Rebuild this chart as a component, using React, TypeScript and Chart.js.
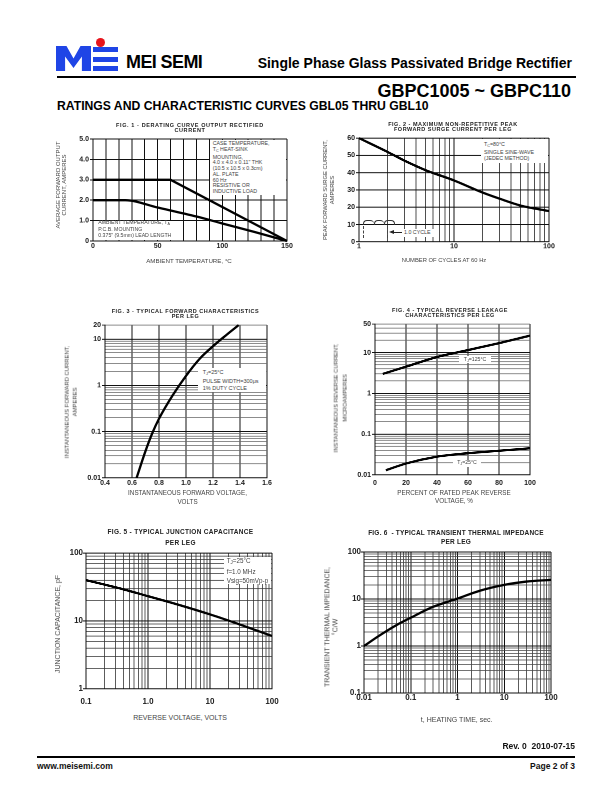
import React, { useEffect, useRef } from "react";
import { Chart, registerables } from "chart.js";
Chart.register(...registerables);

const FONT = '"Liberation Sans", Arial, Helvetica, sans-serif';

// ---------- Fig. 1 : derating curve ----------
const fig1CaseTemp = [0, 60, 150];
const fig1CaseCurrent = [3.0, 3.0, 0];
const fig1AmbTemp = [0, 25, 50, 80, 100, 125, 150];
const fig1AmbCurrent = [2.0, 2.0, 1.64, 1.2, 0.86, 0.44, 0];
const fig1XLabels = [0, 50, 100, 150];
const fig1YLabels = [0, 1, 2, 3, 4, 5];

// ---------- Fig. 2 : surge current ----------
const fig2Cycles = [1, 2, 3, 5, 10, 20, 30, 50, 100];
const fig2Surge = [60, 52, 47, 41.5, 35.5, 28.5, 25, 21, 17.8];
const fig2XLabels = [1, 10, 100];
const fig2YLabels = [0, 10, 20, 30, 40, 50, 60];

// ---------- Fig. 3 : forward characteristics ----------
const fig3Volts = [0.634, 0.7, 0.75, 0.8, 0.9, 1.0, 1.1, 1.2, 1.3, 1.39];
const fig3Amps = [0.01, 0.038, 0.092, 0.19, 0.6, 1.6, 3.7, 7.0, 12.3, 20];
const fig3XLabels = [0.4, 0.6, 0.8, 1.0, 1.2, 1.4, 1.6];
const fig3YLabels = [0.01, 0.1, 1, 10, 20];

// ---------- Fig. 4 : reverse leakage ----------
const fig4Percent125 = [5, 20, 40, 60, 80, 100];
const fig4Leak125 = [3, 4.5, 7.8, 11.5, 17, 26];
const fig4Percent25 = [7, 20, 40, 60, 80, 100];
const fig4Leak25 = [0.013, 0.019, 0.028, 0.034, 0.039, 0.045];
const fig4XLabels = [0, 20, 40, 60, 80, 100];
const fig4YLabels = [0.01, 0.1, 1, 10, 50];

// ---------- Fig. 5 : junction capacitance ----------
const fig5Volts = [0.1, 0.3, 1, 3, 10, 30, 100];
const fig5Cap = [40, 31.3, 23.2, 17.5, 12.5, 8.9, 6];
const fig5XLabels = [0.1, 1, 10, 100];
const fig5YLabels = [1, 10, 100];

// ---------- Fig. 6 : transient thermal impedance ----------
const fig6Time = [0.01, 0.02, 0.05, 0.1, 0.3, 1, 3, 10, 30, 100];
const fig6Zth = [1, 1.6, 2.8, 4, 6.8, 10.2, 15, 20, 23.5, 25.5];
const fig6XLabels = [0.01, 0.1, 1, 10, 100];
const fig6YLabels = [0.1, 1, 10, 100];

// grid helpers (grid lines only, not data)
function linGrid(min: number, max: number, step: number) {
  const out: number[] = [];
  for (let v = min; v <= max + 1e-9; v += step) out.push(+v.toFixed(6));
  return out;
}
function logGrid(min: number, max: number) {
  const out: number[] = [];
  let d = Math.pow(10, Math.floor(Math.log10(min) + 1e-9));
  while (d <= max * 1.0001) {
    for (let m = 1; m < 10; m++) {
      const v = +(m * d).toPrecision(6);
      if (v >= min * 0.9999 && v <= max * 1.0001) out.push(v);
    }
    d *= 10;
  }
  return out;
}

type Axis = {
  type: "linear" | "logarithmic";
  min: number;
  max: number;
  grid: number[];
  labels: number[];
  fmt: (v: number) => string;
  pad: number;
  size: number;
  minor?: string;
};
type Series = { xs: number[]; ys: number[]; smooth: boolean };
type Plot = { left: number; top: number; width: number; height: number };

const M = { l: 36, r: 16, t: 10, b: 24 };

const near = (arr: number[], v: number) =>
  arr.some((a) => Math.abs(a - v) <= Math.abs(v) * 1e-6 + 1e-12);

function PlotChart({ plot, x, y, series }: { plot: Plot; x: Axis; y: Axis; series: Series[] }) {
  const ref = useRef<HTMLCanvasElement>(null);
  const W = plot.width + M.l + M.r;
  const H = plot.height + M.t + M.b;
  useEffect(() => {
    const cv = ref.current;
    if (!cv) return;
    const isMajor = (ax: Axis, v: number) =>
      ax.type === "logarithmic"
        ? Math.abs(Math.log10(v) - Math.round(Math.log10(v))) < 1e-6
        : true;
    const mkScale = (ax: Axis, horiz: boolean): any => ({
      type: ax.type,
      min: ax.min,
      max: ax.max,
      position: horiz ? "bottom" : "left",
      afterBuildTicks: (s: any) => {
        s.ticks = ax.grid.map((v) => ({ value: v }));
      },
      afterFit: (s: any) => {
        if (horiz) s.height = M.b;
        else s.width = M.l;
        s.paddingLeft = 0;
        s.paddingRight = 0;
        s.paddingTop = 0;
        s.paddingBottom = 0;
      },
      ticks: {
        autoSkip: false,
        maxRotation: 0,
        minRotation: 0,
        padding: ax.pad,
        color: "#222",
        font: { family: FONT, size: ax.size, weight: "bold" },
        callback: (v: any) => (near(ax.labels, Number(v)) ? ax.fmt(Number(v)) : ""),
      },
      grid: {
        color: (c: any) =>
          c.tick && isMajor(ax, c.tick.value) ? "#111" : ax.minor || "#555",
        lineWidth: (c: any) => (c.tick && isMajor(ax, c.tick.value) ? 1 : 0.8),
        drawTicks: !horiz,
        tickLength: horiz ? 0 : 3,
        tickColor: (c: any) =>
          c.tick && near(ax.labels, c.tick.value) ? "#111" : "rgba(0,0,0,0)",
      },
      border: { display: true, color: "#111", width: 1 },
    });
    const chart = new Chart(cv, {
      type: "line",
      data: {
        datasets: series.map((s) => ({
          data: s.xs.map((xv, i) => ({ x: xv, y: s.ys[i] })),
          borderColor: "#000",
          borderWidth: 2.3,
          pointRadius: 0,
          fill: false,
          clip: false as any,
          tension: s.smooth ? 0.4 : 0,
          cubicInterpolationMode: s.smooth ? "monotone" : "default",
        })),
      },
      options: {
        responsive: false,
        animation: false,
        devicePixelRatio: 2,
        events: [],
        layout: { padding: { top: M.t, right: M.r, left: 0, bottom: 0 } },
        plugins: { legend: { display: false }, tooltip: { enabled: false }, title: { display: false } },
        scales: { x: mkScale(x, true), y: mkScale(y, false) },
      } as any,
    });
    return () => chart.destroy();
  }, []);
  return (
    <canvas
      ref={ref}
      width={W}
      height={H}
      style={{ position: "absolute", left: plot.left - M.l, top: plot.top - M.t, width: W, height: H }}
    />
  );
}

function Txt({
  x, y, lines, size = 6, bold = false, align = "center", color = "#333", lh, ls = 0,
}: {
  x: number; y: number; lines: React.ReactNode[]; size?: number; bold?: boolean;
  align?: "left" | "right" | "center"; color?: string; lh?: number; ls?: number;
}) {
  const style: React.CSSProperties = {
    position: "absolute",
    top: y,
    fontFamily: FONT,
    fontSize: size,
    fontWeight: bold ? 700 : 400,
    color,
    whiteSpace: "pre",
    lineHeight: `${lh ?? size}px`,
    textAlign: align,
    letterSpacing: ls,
  };
  if (align === "left") style.left = x;
  else if (align === "right") style.right = 612 - x;
  else {
    style.left = x;
    style.transform = "translateX(-50%)";
  }
  return (
    <div style={style}>
      {lines.map((l, i) => (
        <div key={i}>{l}</div>
      ))}
    </div>
  );
}

function VTxt({ cx, cy, lines, size, lh, color = "#444" }: { cx: number; cy: number; lines: string[]; size: number; lh: number; color?: string }) {
  return (
    <div
      style={{
        position: "absolute",
        left: cx,
        top: cy,
        transform: "translate(-50%,-50%) rotate(-90deg)",
        fontFamily: FONT,
        fontSize: size,
        lineHeight: `${lh}px`,
        whiteSpace: "pre",
        textAlign: "center",
        color,
      }}
    >
      {lines.map((l, i) => (
        <div key={i}>{l}</div>
      ))}
    </div>
  );
}

function WBox({ l, t, w, h }: { l: number; t: number; w: number; h: number }) {
  return <div style={{ position: "absolute", left: l, top: t, width: w, height: h, background: "#fff" }} />;
}

const Sub = ({ c }: { c: string }) => <span style={{ fontSize: "70%", verticalAlign: "-0.25em" }}>{c}</span>;

const fmtStr = (v: number) => String(v);

export default function App() {
  return (
    <div style={{ position: "absolute", left: 0, top: 0, width: 612, height: 792, background: "#fff", overflow: "hidden" }}>
      {/* ---------- header ---------- */}
      <div
        style={{
          position: "absolute", left: 56, top: 46, width: 35, height: 25, background: "#1f45e6",
          clipPath: "polygon(0 0, 30% 0, 50% 50%, 70% 0, 100% 0, 100% 100%, 74% 100%, 74% 42%, 50% 88%, 26% 42%, 26% 100%, 0 100%)",
        }}
      />
      <div style={{ position: "absolute", left: 93, top: 47, width: 25, height: 5, background: "#1f45e6" }} />
      <div style={{ position: "absolute", left: 93, top: 56.5, width: 25, height: 5, background: "#1f45e6" }} />
      <div style={{ position: "absolute", left: 93, top: 66, width: 25, height: 5, background: "#1f45e6" }} />
      <div style={{ position: "absolute", left: 95.5, top: 37.5, width: 9, height: 9, borderRadius: "50%", background: "#e8141c" }} />
      <Txt x={126} y={53} lines={["MEI SEMI"]} size={18} bold align="left" color="#000" ls={-0.6} />
      <Txt x={572} y={55.5} lines={["Single Phase Glass Passivated Bridge Rectifier"]} size={14} bold align="right" color="#000" />
      <div style={{ position: "absolute", left: 57, top: 76, width: 519, height: 2, background: "#000" }} />
      <Txt x={571} y={82} lines={["GBPC1005 ~ GBPC110"]} size={18} bold align="right" color="#000" />
      <Txt x={57} y={100} lines={["RATINGS AND CHARACTERISTIC CURVES GBL05 THRU GBL10"]} size={12.2} bold align="left" color="#000" />

      {/* ---------- Fig 1 ---------- */}
      <PlotChart
        plot={{ left: 93, top: 139, width: 194, height: 102 }}
        x={{ type: "linear", min: 0, max: 150, grid: linGrid(0, 150, 10), labels: fig1XLabels, fmt: fmtStr, pad: 1, size: 7 }}
        y={{ type: "linear", min: 0, max: 5, grid: linGrid(0, 5, 1), labels: fig1YLabels, fmt: (v) => (v === 0 ? "0" : v.toFixed(1)), pad: 1, size: 7 }}
        series={[
          { xs: fig1CaseTemp, ys: fig1CaseCurrent, smooth: false },
          { xs: fig1AmbTemp, ys: fig1AmbCurrent, smooth: true },
        ]}
      />
      <WBox l={210} t={140} w={76} h={55} />
      <Txt x={212.7} y={141.2} lh={5.75} size={5.3} align="left" color="#444"
        lines={["CASE TEMPERATURE,", <>T<Sub c="C" /> HEAT-SINK</>, "MOUNTING,", '4.0 x 4.0 x 0.11" THK', "(10.5 x 10.5 x 0.3cm)", "AL. PLATE", "60 Hz", "RESISTIVE OR", "INDUCTIVE LOAD"]} />
      <WBox l={94} t={221.2} w={88} h={19} />
      <Txt x={98.3} y={219.5} lh={5.7} size={5.2} align="left" color="#444"
        lines={[<>AMBIENT TEMPERATURE, T<Sub c="A" /></>, "P.C.B. MOUNTING", '0.375" (9.5mm) LEAD LENGTH']} />
      <Txt x={190} y={123.2} lh={4.8} size={5.5} bold ls={0.6} color="#222"
        lines={["FIG. 1 - DERATING CURVE OUTPUT RECTIFIED", "CURRENT"]} />
      <VTxt cx={60.5} cy={185} size={6} lh={6} lines={["AVERAGE FORWARD OUTPUT", "CURRENT, AMPERES"]} />
      <Txt x={189} y={257.5} size={6.2} color="#444" lines={["AMBIENT TEMPERATURE, °C"]} />

      {/* ---------- Fig 2 ---------- */}
      <PlotChart
        plot={{ left: 359, top: 138, width: 190, height: 103.5 }}
        x={{ type: "logarithmic", min: 1, max: 100, grid: logGrid(1, 100), labels: fig2XLabels, fmt: fmtStr, pad: 0.5, size: 7, minor: "#222" }}
        y={{ type: "linear", min: 0, max: 60, grid: linGrid(0, 60, 10), labels: fig2YLabels, fmt: fmtStr, pad: 1, size: 7 }}
        series={[{ xs: fig2Cycles, ys: fig2Surge, smooth: true }]}
      />
      <WBox l={481} t={139} w={67} h={24} />
      <Txt x={484} y={142.2} lh={5.7} size={5.3} align="left" color="#444"
        lines={[<>T<Sub c="C" />=80°C</>, "SINGLE SINE-WAVE", "(JEDEC METHOD)"]} />
      {[0, 1, 2].map((i) => (
        <div key={i} style={{ position: "absolute", left: 363 + i * 10.5, top: 220, width: 10.5, height: 5, boxSizing: "border-box", borderTop: "0.9px solid #333", borderLeft: "0.9px solid #333", borderRight: i === 2 ? "0.9px solid #333" : "none", borderRadius: "4px 4px 0 0" }} />
      ))}
      <div style={{ position: "absolute", left: 363, top: 226, height: 12, borderLeft: "0.9px dashed #444" }} />
      <div style={{ position: "absolute", left: 386.5, top: 226, height: 12, borderLeft: "0.9px dashed #444" }} />
      <WBox l={389} t={228.5} w={46} h={8} />
      <div style={{ position: "absolute", left: 389, top: 230, width: 0, height: 0, borderRight: "5px solid #222", borderTop: "2.5px solid transparent", borderBottom: "2.5px solid transparent" }} />
      <div style={{ position: "absolute", left: 393, top: 232, width: 9, height: 1, background: "#222" }} />
      <Txt x={404} y={229.7} size={5.3} align="left" color="#444" lines={["1.0 CYCLE"]} />
      <Txt x={453} y={121.6} lh={5} size={5.5} bold ls={0.5} color="#222"
        lines={["FIG. 2 - MAXIMUM NON-REPETITIVE PEAK", "FORWARD SURGE CURRENT PER LEG"]} />
      <VTxt cx={328.5} cy={190} size={5.8} lh={7} lines={["PEAK FORWARD SURGE CURRENT,", "AMPERES"]} />
      <Txt x={444} y={257.5} size={5.8} color="#444" lines={["NUMBER OF CYCLES AT 60 Hz"]} />

      {/* ---------- Fig 3 ---------- */}
      <PlotChart
        plot={{ left: 105, top: 325, width: 162, height: 152.5 }}
        x={{ type: "linear", min: 0.4, max: 1.6, grid: linGrid(0.4, 1.6, 0.2), labels: fig3XLabels, fmt: (v) => v.toFixed(1), pad: 1, size: 7 }}
        y={{ type: "logarithmic", min: 0.01, max: 20, grid: logGrid(0.01, 20), labels: fig3YLabels, fmt: fmtStr, pad: 1, size: 7, minor: "#666" }}
        series={[{ xs: fig3Volts, ys: fig3Amps, smooth: true }]}
      />
      <WBox l={198} t={368} w={68} h={24} />
      <Txt x={202.7} y={369.4} lh={6.7} size={5.5} align="left" color="#444"
        lines={[<>T<Sub c="J" />=25°C</>, "PULSE WIDTH=300μs", "1% DUTY CYCLE"]} />
      <Txt x={185.5} y={308.5} lh={5.5} size={5.5} bold ls={0.5} color="#222"
        lines={["FIG. 3 - TYPICAL FORWARD CHARACTERISTICS", "PER LEG"]} />
      <VTxt cx={71} cy={402} size={5.9} lh={8.3} lines={["INSTANTANEOUS FORWARD CURRENT,", "AMPERES"]} />
      <Txt x={187.5} y={489} lh={8.6} size={6.3} color="#444" lines={["INSTANTANEOUS FORWARD VOLTAGE,", "VOLTS"]} />

      {/* ---------- Fig 4 ---------- */}
      <PlotChart
        plot={{ left: 375, top: 324, width: 155, height: 150.5 }}
        x={{ type: "linear", min: 0, max: 100, grid: linGrid(0, 100, 20), labels: fig4XLabels, fmt: fmtStr, pad: 4, size: 7 }}
        y={{ type: "logarithmic", min: 0.01, max: 50, grid: logGrid(0.01, 50), labels: fig4YLabels, fmt: fmtStr, pad: 1, size: 7, minor: "#666" }}
        series={[
          { xs: fig4Percent125, ys: fig4Leak125, smooth: true },
          { xs: fig4Percent25, ys: fig4Leak25, smooth: true },
        ]}
      />
      <WBox l={459} t={356} w={32} h={7} />
      <Txt x={475} y={356.8} size={5.2} color="#444" lines={[<>T<Sub c="J" />=125°C</>]} />
      <WBox l={453} t={459.5} w={28} h={7} />
      <Txt x={467} y={460.3} size={5.2} color="#444" lines={[<>T<Sub c="J" />=25°C</>]} />
      <Txt x={450} y={307.5} lh={5.5} size={5.5} bold ls={0.5} color="#222"
        lines={["FIG. 4 - TYPICAL REVERSE LEAKAGE", "CHARACTERISTICS PER LEG"]} />
      <VTxt cx={341.3} cy={398} size={5.8} lh={9.3} lines={["INSTANTANEOUS REVERSE CURRENT,", "MICROAMPERES"]} />
      <Txt x={454} y={489} lh={7.5} size={6.3} color="#444" lines={["PERCENT OF RATED PEAK REVERSE", "VOLTAGE, %"]} />

      {/* ---------- Fig 5 ---------- */}
      <PlotChart
        plot={{ left: 86, top: 553, width: 186, height: 135.5 }}
        x={{ type: "logarithmic", min: 0.1, max: 100, grid: logGrid(0.1, 100), labels: fig5XLabels, fmt: (v) => (v === 1 ? "1.0" : String(v)), pad: 8, size: 8, minor: "#333" }}
        y={{ type: "logarithmic", min: 1, max: 100, grid: logGrid(1, 100), labels: fig5YLabels, fmt: fmtStr, pad: 0, size: 8, minor: "#333" }}
        series={[{ xs: fig5Volts, ys: fig5Cap, smooth: true }]}
      />
      <WBox l={224} t={557} w={47} h={27} />
      <Txt x={226.7} y={557.4} lh={8.6} size={6.3} align="left" color="#444"
        lines={[<>T<Sub c="J" />=25°C</>, "f=1.0 MHz", "Vsig=50mVp-p"]} />
      <Txt x={180.5} y={526} lh={11} size={6.5} bold ls={0.3} color="#222"
        lines={["FIG. 5 - TYPICAL JUNCTION CAPACITANCE", "PER LEG"]} />
      <VTxt cx={57.5} cy={624} size={7} lh={8} lines={["JUNCTION CAPACITANCE, pF"]} />
      <Txt x={180} y={714} size={7} color="#444" lines={["REVERSE VOLTAGE, VOLTS"]} />

      {/* ---------- Fig 6 ---------- */}
      <PlotChart
        plot={{ left: 364, top: 552, width: 187, height: 141 }}
        x={{ type: "logarithmic", min: 0.01, max: 100, grid: logGrid(0.01, 100), labels: fig6XLabels, fmt: fmtStr, pad: 0, size: 8, minor: "#333" }}
        y={{ type: "logarithmic", min: 0.1, max: 100, grid: logGrid(0.1, 100), labels: fig6YLabels, fmt: fmtStr, pad: 0, size: 8, minor: "#444" }}
        series={[{ xs: fig6Time, ys: fig6Zth, smooth: true }]}
      />
      <Txt x={456} y={528} lh={9} size={6.5} bold ls={0.2} color="#222"
        lines={["FIG. 6  - TYPICAL TRANSIENT THERMAL IMPEDANCE", "PER LEG"]} />
      <VTxt cx={330.5} cy={627} size={7} lh={7.6} lines={["TRANSIENT THERMAL IMPEDANCE,", "°C/W"]} />
      <Txt x={456.7} y={716} size={7} color="#444" lines={["t, HEATING TIME, sec."]} />

      {/* ---------- footer ---------- */}
      <Txt x={575} y={741.5} size={8.5} bold align="right" color="#111" lines={["Rev. 0  2010-07-15"]} />
      <div style={{ position: "absolute", left: 37, top: 756, width: 538, height: 1.5, background: "#000" }} />
      <Txt x={37} y={761.5} size={8.5} bold align="left" color="#111" lines={["www.meisemi.com"]} />
      <Txt x={575} y={761.5} size={8.5} bold align="right" color="#111" lines={["Page 2 of 3"]} />
    </div>
  );
}
